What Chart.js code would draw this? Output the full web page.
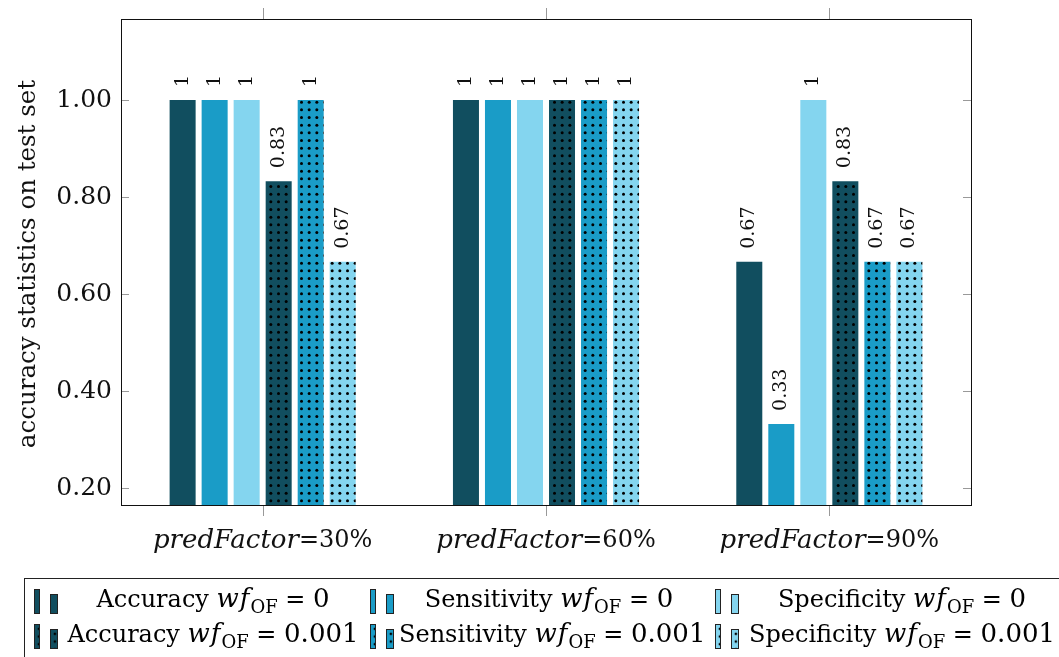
<!DOCTYPE html>
<html lang="en">
  <head>
    <meta charset="UTF-8" />
    <script src="https://cdn.jsdelivr.net/npm/chart.js@4.4.0/dist/chart.umd.min.js"></script>
    <title>accuracy statistics</title>
    <style>
      body {
        margin: 0;
        padding: 0;
        background: white;
      }
      .container {
        position: relative;
        width: 1059px;
        height: 657px;
        overflow: hidden;
      }
      .legend {
        position: absolute;
        left: 24px;
        top: 578px;
        width: 1100px;
        height: 120px;
        border: 1px solid #222;
        font-family: 'DejaVu Serif', serif;
        font-size: 24px;
        color: #000;
      }
      .item {
        position: absolute;
        display: flex;
        align-items: center;
        height: 34px;
      }
      .icon {
        position: relative;
        width: 30px;
        height: 34px;
      }
      .icon span {
        position: absolute;
        bottom: 3px;
        box-sizing: border-box;
        border: 1px solid #222;
      }
      .txt {
        text-align: center;
        white-space: nowrap;
      }
      .txt i {
        font-family: 'DejaVu Serif', serif;
        font-size: 26px;
        letter-spacing: 1px;
      }
      .txt sub {
        font-size: 18px;
        vertical-align: -6px;
      }
      .num {
        font-size: 26px;
      }
    </style>
  </head>
  <body>
    <div class="container">
      <canvas id="chart"></canvas>
      <div class="legend" id="legend"></div>
    </div>
    <script>
      const categories = ['30%', '60%', '90%']
      const yTicks = [0.2, 0.4, 0.6, 0.8, 1.0]
      const accuracy0 = [1, 1, 0.667]
      const sensitivity0 = [1, 1, 0.333]
      const specificity0 = [1, 1, 1]
      const accuracy001 = [0.833, 1, 0.833]
      const sensitivity001 = [1, 1, 0.667]
      const specificity001 = [0.667, 1, 0.667]

      const dark = '#114e5f'
      const mid = '#1a9cc7'
      const light = '#84d5ef'

      const dotted = (color) => {
        const c = document.createElement('canvas')
        c.width = 23
        c.height = 23
        const g = c.getContext('2d')
        g.fillStyle = color
        g.fillRect(0, 0, 23, 23)
        g.fillStyle = '#000'
        for (let i = 0; i < 3; i++) {
          for (let j = 0; j < 3; j++) {
            g.beginPath()
            g.arc(2.5 + i * 7.67, 2.5 + j * 7.67, 1.5, 0, Math.PI * 2)
            g.fill()
          }
        }
        return g.createPattern(c, 'repeat')
      }

      const series = [
        { name: 'Accuracy', wf: '0', data: accuracy0, color: dark, dots: false },
        { name: 'Sensitivity', wf: '0', data: sensitivity0, color: mid, dots: false },
        { name: 'Specificity', wf: '0', data: specificity0, color: light, dots: false },
        { name: 'Accuracy', wf: '0.001', data: accuracy001, color: dark, dots: true },
        { name: 'Sensitivity', wf: '0.001', data: sensitivity001, color: mid, dots: true },
        { name: 'Specificity', wf: '0.001', data: specificity001, color: light, dots: true },
      ]

      const fmt = (v) => (v === 1 ? '1' : v.toFixed(2))

      // frame, ticks, x labels, y title, value labels
      const decor = {
        id: 'decor',
        afterDatasetsDraw(chart) {
          const ctx = chart.ctx
          ctx.save()
          ctx.fillStyle = '#111'
          ctx.font = '19px "DejaVu Serif"'
          ctx.textAlign = 'left'
          ctx.textBaseline = 'middle'
          chart.data.datasets.forEach((ds, i) => {
            chart.getDatasetMeta(i).data.forEach((el, j) => {
              ctx.save()
              ctx.translate(el.x, el.y - 13)
              ctx.rotate(-Math.PI / 2)
              ctx.fillText(fmt(ds.data[j]), 0, 0)
              ctx.restore()
            })
          })
          ctx.restore()
        },
        afterDraw(chart) {
          const ctx = chart.ctx
          const a = chart.chartArea
          const x = chart.scales.x
          const y = chart.scales.y
          ctx.save()
          ctx.strokeStyle = '#999'
          ctx.lineWidth = 1
          x.ticks.forEach((t, i) => {
            const px = Math.round(x.getPixelForTick(i)) + 0.5
            ctx.beginPath()
            ctx.moveTo(px, a.bottom)
            ctx.lineTo(px, a.bottom + 11)
            ctx.moveTo(px, a.top)
            ctx.lineTo(px, a.top - 11)
            ctx.stroke()
          })
          yTicks.forEach((v) => {
            const py = Math.round(y.getPixelForValue(v)) + 0.5
            ctx.beginPath()
            ctx.moveTo(a.left, py)
            ctx.lineTo(a.left + 8, py)
            ctx.moveTo(a.right, py)
            ctx.lineTo(a.right - 8, py)
            ctx.stroke()
          })
          ctx.strokeStyle = '#111'
          ctx.strokeRect(a.left + 0.5, a.top + 0.5, a.right - a.left, a.bottom - a.top)

          ctx.fillStyle = '#111'
          ctx.textBaseline = 'middle'
          categories.forEach((c, i) => {
            const px = x.getPixelForTick(i)
            const p1 = 'predFactor'
            const p2 = '=' + c
            ctx.font = 'italic 26px "DejaVu Serif"'
            const w1 = ctx.measureText(p1).width
            ctx.font = '24px "DejaVu Serif"'
            const w2 = ctx.measureText(p2).width
            const x0 = px - (w1 + w2) / 2
            ctx.textAlign = 'left'
            ctx.font = 'italic 26px "DejaVu Serif"'
            ctx.fillText(p1, x0, 541)
            ctx.font = '24px "DejaVu Serif"'
            ctx.fillText(p2, x0 + w1, 541)
          })

          ctx.save()
          ctx.translate(29, 264)
          ctx.rotate(-Math.PI / 2)
          ctx.textAlign = 'center'
          ctx.font = '24.5px "DejaVu Serif"'
          ctx.fillText('accuracy statistics on test set', 0, 0)
          ctx.restore()
          ctx.restore()
        },
      }

      const canvas = document.getElementById('chart')
      const ctx = canvas.getContext('2d')
      new Chart(ctx, {
        type: 'bar',
        data: {
          labels: categories,
          datasets: series.map((s) => ({
            label: s.name + ' wf_OF = ' + s.wf,
            data: s.data,
            backgroundColor: s.dots ? dotted(s.color) : s.color,
            borderWidth: 0,
            categoryPercentage: 0.678,
            barPercentage: 0.8125,
          })),
        },
        options: {
          responsive: true,
          maintainAspectRatio: false,
          animation: false,
          layout: {
            padding: { top: 19, right: 88, left: 0, bottom: 0 },
          },
          plugins: {
            legend: { display: false },
            tooltip: { enabled: false },
          },
          scales: {
            x: {
              grid: { display: false, drawTicks: false },
              border: { display: false },
              ticks: { display: false },
              afterFit: (s) => {
                s.height = 152
                s.paddingLeft = 0
                s.paddingRight = 0
              },
            },
            y: {
              min: 0.166,
              max: 1.167,
              grid: { display: false, drawTicks: false },
              border: { display: false },
              afterBuildTicks: (s) => {
                s.ticks = yTicks.map((v) => ({ value: v }))
              },
              ticks: {
                padding: 9,
                color: '#111',
                font: { family: 'DejaVu Serif', size: 25 },
                callback: (v) => v.toFixed(2),
              },
              afterFit: (s) => {
                s.width = 121
                s.paddingTop = 0
                s.paddingBottom = 0
              },
            },
          },
        },
        plugins: [decor],
      })

      // legend
      const legend = document.getElementById('legend')
      const cells = [
        { left: 8, width: 300 },
        { left: 344, width: 300 },
        { left: 689, width: 316 },
      ]
      series.forEach((s, i) => {
        const col = i % 3
        const row = Math.floor(i / 3)
        const item = document.createElement('div')
        item.className = 'item'
        item.style.left = cells[col].left + 'px'
        item.style.top = 4 + row * 35 + 'px'
        const icon = document.createElement('div')
        icon.className = 'icon'
        const bg = s.dots
          ? 'radial-gradient(circle, #000 1.2px, transparent 1.6px) 0 0 / 7.7px 7.7px, ' + s.color
          : s.color
        const b1 = document.createElement('span')
        b1.style.cssText = 'left:1px;width:6px;height:25px;background:' + bg
        const b2 = document.createElement('span')
        b2.style.cssText = 'left:17px;width:8px;height:20px;background:' + bg
        icon.appendChild(b1)
        icon.appendChild(b2)
        const txt = document.createElement('div')
        txt.className = 'txt'
        txt.style.width = cells[col].width + 'px'
        txt.innerHTML = s.name + ' <i>wf</i><sub>OF</sub> = <span class="num">' + s.wf + '</span>'
        item.appendChild(icon)
        item.appendChild(txt)
        legend.appendChild(item)
      })
    </script>
  </body>
</html>
